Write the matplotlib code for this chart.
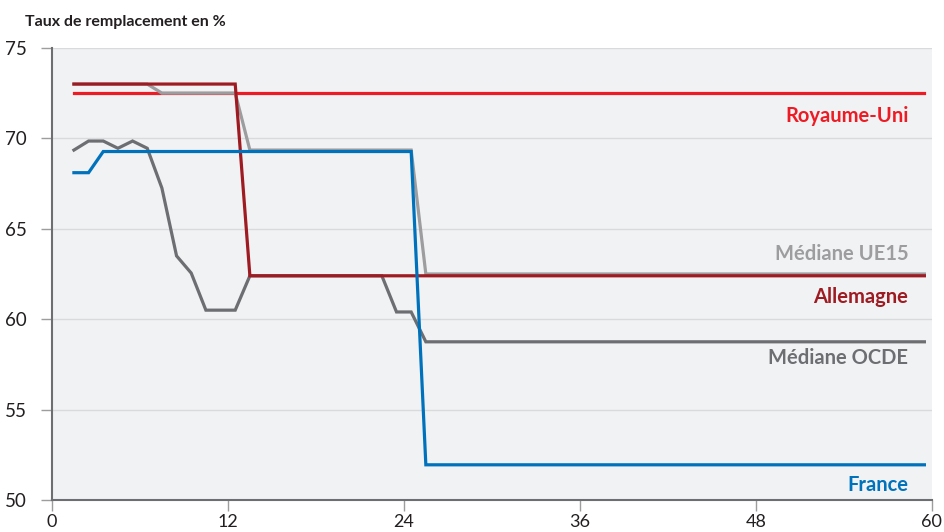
import numpy as np
import matplotlib
matplotlib.use("Agg")
import matplotlib.pyplot as plt

plt.rcParams["font.family"] = ["Lato", "DejaVu Sans"]

# Mois de chômage (2 à 60), tracés au centre de chaque mois
mois = np.arange(2, 61)

royaume_uni = [72.5] * 59
allemagne = [73.0] * 12 + [62.4] * 47
mediane_ue15 = [73.0] * 6 + [72.5] * 6 + [69.35] * 12 + [62.5] * 35
mediane_ocde = ([69.35, 69.85, 69.85, 69.45, 69.85, 69.45, 67.25, 63.5, 62.55,
                 60.5, 60.5, 60.5] + [62.4] * 10 + [60.4, 60.4] + [58.75] * 35)
france = [68.1, 68.1] + [69.27] * 22 + [51.95] * 35

series = [
    ("Royaume-Uni", royaume_uni, "#ed1c24"),
    ("Médiane UE15", mediane_ue15, "#9d9d9f"),
    ("Médiane OCDE", mediane_ocde, "#6d6e71"),
    ("Allemagne", allemagne, "#9e1b22"),
    ("France", france, "#0072bc"),
]
label_y = {"Royaume-Uni": 71.25, "Médiane UE15": 63.6, "Allemagne": 61.25,
           "Médiane OCDE": 57.85, "France": 50.85}

fig = plt.figure(figsize=(9.44, 5.32), dpi=100)
ax = fig.add_axes([0.055, 0.06, 0.932, 0.85])
ax.set_facecolor("#f1f2f4")

x = mois - 0.5
for nom, vals, couleur in series:
    ax.plot(x, vals, color=couleur, lw=2.3, solid_joinstyle="miter", zorder=3)
    ax.text(58.4, label_y[nom], nom, color=couleur, fontsize=14.5,
            fontweight="bold", ha="right", va="center", zorder=4)

ax.set_xlim(0, 60)
ax.set_ylim(50, 75)
ax.set_xticks([0, 12, 24, 36, 48, 60])
ax.set_yticks([50, 55, 60, 65, 70, 75])
ax.grid(axis="y", color="#d9dadc", lw=1, zorder=0)
for s in ["top", "right"]:
    ax.spines[s].set_visible(False)
for s in ["left", "bottom"]:
    ax.spines[s].set_color("#6d6e71")
    ax.spines[s].set_linewidth(1.5)
ax.tick_params(axis="y", length=8, width=1, color="#9d9d9f", pad=10,
               labelsize=13.5, labelcolor="#231f20")
ax.tick_params(axis="x", length=8, width=1, color="#9d9d9f", pad=2,
               labelsize=13, labelcolor="#231f20")

fig.text(0.027, 0.958, "Taux de remplacement en %", fontsize=11.5,
         fontweight="bold", color="#231f20", va="center")

fig.savefig("out.png", dpi=100)
